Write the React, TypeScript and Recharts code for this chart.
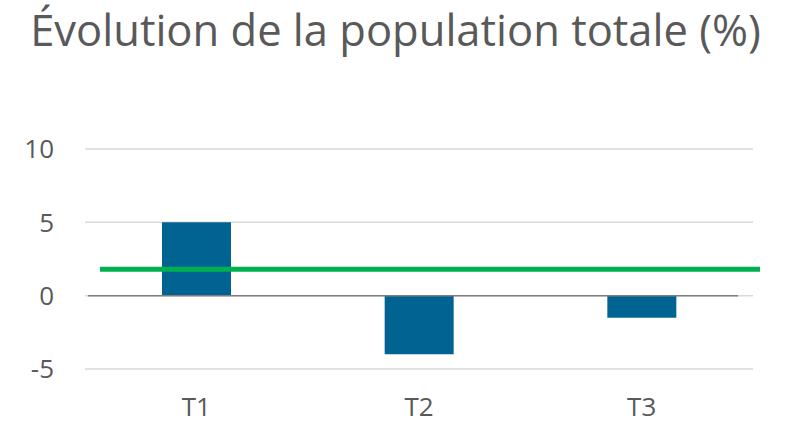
import { ComposedChart, Bar, XAxis, YAxis, CartesianGrid, ReferenceLine } from "recharts";

const categories = ["T1", "T2", "T3"];
const evolution = [5, -4, -1.5];
const average = 1.8;
const yTicks = [-5, 0, 5, 10];

const data = categories.map((t, i) => ({ t, v: evolution[i] }));

const FONT = "'Open Sans', sans-serif";
const GREY = "#595959";

const ZeroLine = (props: any) => (
  <line x1={props.x1 + 3} y1={props.y1} x2={props.x2 - 15} y2={props.y2} stroke="#7f7f7f" strokeWidth={1.5} />
);

const AvgLine = (props: any) => (
  <line x1={props.x1 + 15} y1={props.y1} x2={props.x2 + 7} y2={props.y2} stroke="#00B050" strokeWidth={5} />
);

export default function App() {
  return (
    <div style={{ position: "absolute", left: 0, top: 0, width: 791, height: 424, background: "#fff" }}>
      <div
        style={{
          position: "absolute",
          left: 0,
          top: 4,
          width: 791,
          textAlign: "center",
          fontFamily: FONT,
          fontSize: 43.5,
          lineHeight: "52px",
          color: GREY,
          whiteSpace: "nowrap",
        }}
      >
        Évolution de la population totale (%)
      </div>
      <ComposedChart
        width={791}
        height={424}
        data={data}
        margin={{ top: 149, right: 38, left: 0, bottom: 0 }}
        style={{ fontFamily: FONT }}
      >
        <CartesianGrid vertical={false} stroke="#D9D9D9" strokeWidth={1.5} />
        <XAxis
          dataKey="t"
          height={55}
          axisLine={false}
          tickLine={false}
          tickSize={0}
          tickMargin={29}
          tick={{ fill: GREY, fontSize: 26 }}
        />
        <YAxis
          width={85}
          domain={[-5, 10]}
          ticks={yTicks}
          axisLine={false}
          tickLine={false}
          tickSize={0}
          tickMargin={31}
          tick={{ fill: GREY, fontSize: 26 }}
        />
        <Bar dataKey="v" fill="#006391" barSize={69} isAnimationActive={false} />
        <ReferenceLine y={0} shape={ZeroLine} />
        <ReferenceLine y={average} shape={AvgLine} />
      </ComposedChart>
    </div>
  );
}
